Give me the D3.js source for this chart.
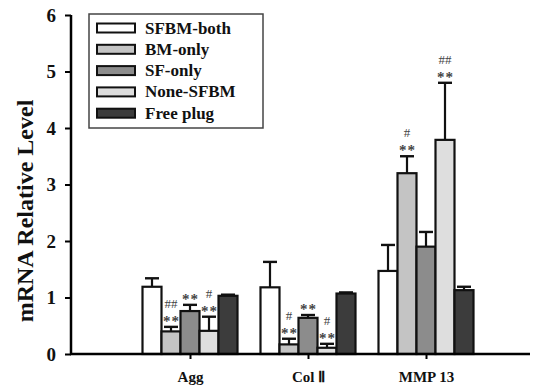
<!DOCTYPE html>
<html><head><meta charset="utf-8">
<script src="https://cdn.jsdelivr.net/npm/d3@7"></script>
<style>body{margin:0;background:#fff}svg{display:block}</style>
</head><body>
<svg id="c" width="536" height="385"></svg>
<script>
const categories = ["Agg", "Col \u2161", "MMP 13"];
const seriesNames = ["SFBM-both", "BM-only", "SF-only", "None-SFBM", "Free plug"];
const seriesColors = ["#ffffff", "#c4c4c4", "#8c8c8c", "#dedede", "#3c3c3c"];
// values[series][category]
const sfbmBoth = [1.19, 1.18, 1.47];
const bmOnly   = [0.40, 0.17, 3.20];
const sfOnly   = [0.76, 0.64, 1.90];
const noneSfbm = [0.41, 0.11, 3.79];
const freePlug = [1.03, 1.07, 1.13];
const errSfbmBoth = [0.15, 0.45, 0.46];
const errBmOnly   = [0.08, 0.10, 0.30];
const errSfOnly   = [0.11, 0.05, 0.26];
const errNoneSfbm = [0.25, 0.07, 1.01];
const errFreePlug = [0.02, 0.02, 0.06];
// significance marks: [upper, lower] per series per category
const marksBmOnly   = [["##", "**"], ["#", "**"], ["#", "**"]];
const marksSfOnly   = [["", "**"], ["", "**"], ["", ""]];
const marksNoneSfbm = [["#", "**"], ["#", "**"], ["##", "**"]];
const yTicks = [0, 1, 2, 3, 4, 5, 6];
const yLabel = "mRNA Relative Level";

const values = [sfbmBoth, bmOnly, sfOnly, noneSfbm, freePlug];
const errors = [errSfbmBoth, errBmOnly, errSfOnly, errNoneSfbm, errFreePlug];
const marks = [null, marksBmOnly, marksSfOnly, marksNoneSfbm, null];

const svg = d3.select("#c");
const font = "'Liberation Serif','Times New Roman',serif";
const y = d3.scaleLinear().domain([0, 6]).range([354, 15]);
const x = d3.scalePoint().domain(categories).range([190, 426]);
const xs = d3.scaleBand().domain(seriesNames).range([-47.5, 47.5]).padding(0);
const bw = xs.bandwidth();

// bars
const g = svg.append("g");
seriesNames.forEach((s, si) => {
  categories.forEach((c, ci) => {
    const v = values[si][ci], e = errors[si][ci];
    const x0 = x(c) + xs(s), xc = x0 + bw / 2;
    g.append("line").attr("x1", xc).attr("x2", xc).attr("y1", y(v)).attr("y2", y(v + e))
      .attr("stroke", "#111").attr("stroke-width", 2.2);
    g.append("line").attr("x1", xc - 7).attr("x2", xc + 7).attr("y1", y(v + e)).attr("y2", y(v + e))
      .attr("stroke", "#111").attr("stroke-width", 2.4);
    g.append("rect").attr("x", x0).attr("y", y(v)).attr("width", bw).attr("height", y(0) - y(v))
      .attr("fill", seriesColors[si]).attr("stroke", "#111").attr("stroke-width", 2.2);
    if (marks[si]) {
      const [up, lo] = marks[si][ci];
      const top = y(v + e);
      if (lo) g.append("text").attr("x", xc + 0.5).attr("y", top - 1).attr("text-anchor", "middle")
        .attr("font-family", font).attr("font-weight", "bold").attr("font-size", 15)
        .attr("letter-spacing", 1).attr("fill", "#444").style("text-rendering", "geometricPrecision").text(lo);
      if (up) g.append("text").attr("x", xc).attr("y", top - 19).attr("text-anchor", "middle")
        .attr("font-family", font).attr("font-size", 13)
        .attr("fill", "#444").text(up);
    }
  });
});

// axes
const yAxis = svg.append("g").attr("transform", "translate(71,0)")
  .call(d3.axisLeft(y).tickValues(yTicks).tickSize(6).tickPadding(9).tickFormat(d3.format("d")));
yAxis.select(".domain").attr("stroke-width", 2.5).attr("d", "M0,15V354");
yAxis.selectAll(".tick line").attr("stroke-width", 2);
yAxis.selectAll("text").attr("font-family", font).attr("font-weight", "bold").attr("font-size", 19).attr("fill", "#111");

const xAxis = svg.append("g").attr("transform", "translate(0,354)")
  .call(d3.axisBottom(x).tickSize(5).tickPadding(12));
xAxis.select(".domain").attr("stroke-width", 2.5).attr("d", "M70,0H530");
xAxis.selectAll(".tick line").attr("stroke-width", 2);
xAxis.selectAll("text").attr("font-family", font).attr("font-weight", "bold").attr("font-size", 15).attr("fill", "#111");

svg.append("text").attr("transform", "translate(33,211) rotate(-90)").attr("text-anchor", "middle")
  .attr("font-family", font).attr("font-weight", "bold").attr("font-size", 24).attr("fill", "#111").text(yLabel);

// legend
const lg = svg.append("g");
lg.append("rect").attr("x", 89).attr("y", 14).attr("width", 174).attr("height", 114)
  .attr("fill", "#fff").attr("stroke", "#444").attr("stroke-width", 1.5);
seriesNames.forEach((s, i) => {
  const cy = 28 + i * 21.3;
  lg.append("rect").attr("x", 97).attr("y", cy - 4.5).attr("width", 38).attr("height", 9)
    .attr("fill", seriesColors[i]).attr("stroke", "#111").attr("stroke-width", 2);
  lg.append("text").attr("x", 145).attr("y", cy + 5.5).attr("font-family", font).attr("font-weight", "bold")
    .attr("font-size", 17).attr("fill", "#111").text(s);
});
</script>
</body></html>
